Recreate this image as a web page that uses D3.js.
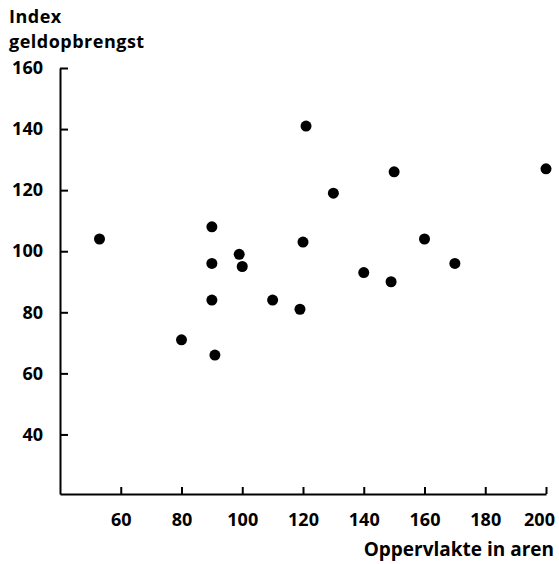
<!DOCTYPE html>
<html>
<head>
<meta charset="utf-8">
<script src="https://cdn.jsdelivr.net/npm/d3@7"></script>
<style>
  html, body { margin: 0; padding: 0; background: #fff; }
  svg { display: block; }
  text { font-family: "Open Sans", Lato, sans-serif; font-weight: 700; fill: #000; }
</style>
</head>
<body>
<svg id="chart" width="559" height="564"></svg>
<script>
// Oppervlakte (aren) per bedrijf
const oppervlakte = [53, 80, 90, 90, 90, 91, 99, 100, 110, 119, 120, 121, 130, 140, 149, 150, 160, 170, 200];
// Index geldopbrengst per bedrijf
const geldopbrengst = [104, 71, 108, 96, 84, 66, 99, 95, 84, 81, 103, 141, 119, 93, 90, 126, 104, 96, 127];

const xTicks = [60, 80, 100, 120, 140, 160, 180, 200];
const yTicks = [40, 60, 80, 100, 120, 140, 160];

const yTitle = ["Index", "geldopbrengst"];
const xTitle = "Oppervlakte in aren";

const svg = d3.select("#chart");
const ink = "#000";

const x = d3.scaleLinear().domain([40, 200]).range([60, 546]);
const y = d3.scaleLinear().domain([20.5, 160]).range([494, 68]);

// y axis, ticks pointing into the plot
const yAxis = svg.append("g")
  .attr("transform", "translate(60,0)")
  .call(d3.axisLeft(y).tickValues(yTicks).tickSizeInner(-8).tickSizeOuter(0).tickPadding(17));

// x axis, ticks pointing up
const xAxis = svg.append("g")
  .attr("transform", "translate(0,494)")
  .call(d3.axisBottom(x).tickValues(xTicks).tickSizeInner(-7).tickSizeOuter(0).tickPadding(19));

[yAxis, xAxis].forEach(g => {
  g.attr("font-family", null).attr("font-size", null);
  g.select(".domain").attr("stroke", ink).attr("stroke-width", 2);
  g.selectAll(".tick line").attr("stroke", ink).attr("stroke-width", 2);
  g.selectAll(".tick text").style("font-size", "18px").attr("fill", ink);
});

// the last x label sits slightly inside the right edge
xAxis.selectAll(".tick text").filter(d => d === 200).attr("dx", -7);

// axis titles
svg.append("g").selectAll("text")
  .data(yTitle)
  .join("text")
  .attr("x", 9)
  .attr("y", (d, i) => 23 + i * 25)
  .style("font-size", "18px")
  .style("letter-spacing", "0.5px")
  .text(d => d);

svg.append("text")
  .attr("x", 554)
  .attr("y", 556)
  .attr("text-anchor", "end")
  .style("font-size", "19px")
  .text(xTitle);

// points
svg.append("g").selectAll("circle")
  .data(oppervlakte.map((v, i) => [v, geldopbrengst[i]]))
  .join("circle")
  .attr("cx", d => x(d[0]))
  .attr("cy", d => y(d[1]))
  .attr("r", 5.5)
  .attr("fill", ink);
</script>
</body>
</html>
